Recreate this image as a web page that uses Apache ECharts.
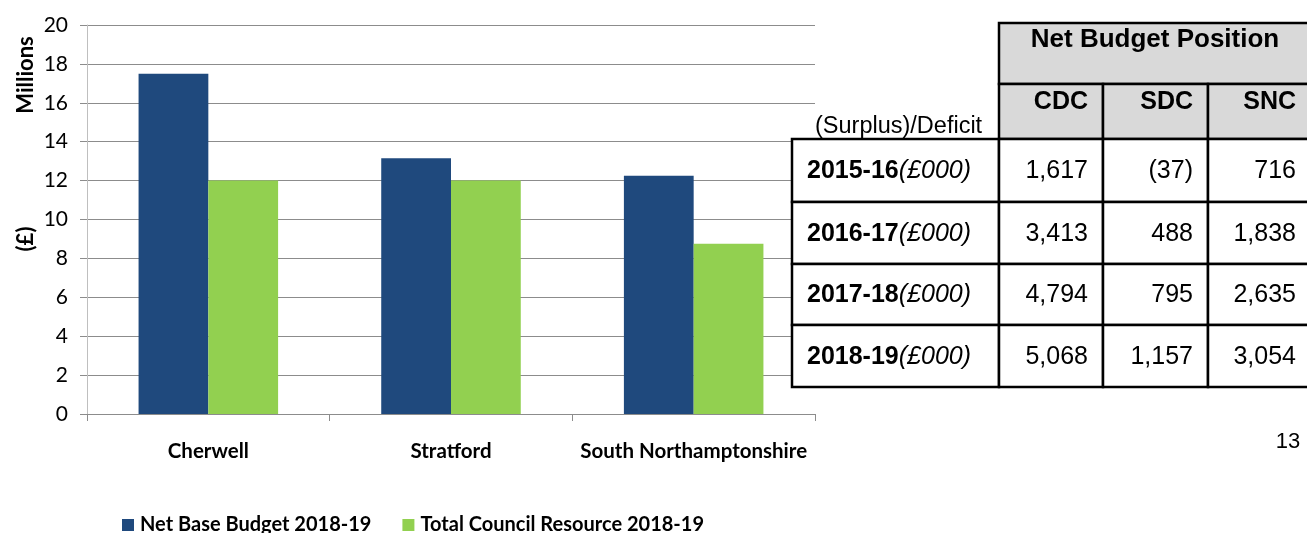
<!DOCTYPE html>
<html><head><meta charset="utf-8">
<script src="https://cdn.jsdelivr.net/npm/echarts@6/dist/echarts.min.js"></script>
<style>html,body{margin:0;padding:0;background:#fff;}#c{width:1307px;height:533px;}</style>
</head><body><div id="c"></div>
<script>
// ---- data ----
const categories = ['Cherwell', 'Stratford', 'South Northamptonshire'];
const netBaseBudget = [17.5, 13.15, 12.25];
const totalCouncilResource = [12.0, 12.0, 8.75];
const seriesNames = ['Net Base Budget 2018-19', 'Total Council Resource 2018-19'];
const tableTitle = 'Net Budget Position';
const tableCorner = '(Surplus)/Deficit';
const tableCols = ['CDC', 'SDC', 'SNC'];
const tableYears = ['2015-16', '2016-17', '2017-18', '2018-19'];
const tableUnit = '(£000)';
const cdcValues = ['1,617', '3,413', '4,794', '5,068'];
const sdcValues = ['(37)', '488', '795', '1,157'];
const sncValues = ['716', '1,838', '2,635', '3,054'];
const pageNumber = '13';

// ---- layout ----
const chartFont = 'Lato';
const tableFont = '"Liberation Sans", Arial, sans-serif';
const colX = [792, 999, 1103, 1208, 1311];
const rowY = [139, 202, 264, 325, 387];
const headTop = 23, headMid = 84;
const lw = 2.5;
const greyFill = '#d9d9d9';

const graphics = [];
// axis titles
graphics.push({type:'text', x:26, y:75, rotation:Math.PI/2, z:10,
  style:{text:'Millions', align:'center', verticalAlign:'middle', fill:'#000', font:'bold 22px ' + chartFont}});
graphics.push({type:'text', x:26, y:239, rotation:Math.PI/2, z:10,
  style:{text:'(£)', align:'center', verticalAlign:'middle', fill:'#000', font:'bold 22px ' + chartFont}});

// table header
graphics.push({type:'rect', z:20, shape:{x:colX[1], y:headTop, width:colX[4]-colX[1], height:headMid-headTop},
  style:{fill:greyFill, stroke:'#000', lineWidth:lw}});
graphics.push({type:'text', z:21, x:(colX[1]+colX[4])/2, y:40,
  style:{text:tableTitle, align:'center', verticalAlign:'middle', fill:'#000', font:'bold 26px ' + tableFont}});
const colsVals = [cdcValues, sdcValues, sncValues];
tableCols.forEach((c, i) => {
  graphics.push({type:'rect', z:20, shape:{x:colX[i+1], y:headMid, width:colX[i+2]-colX[i+1], height:rowY[0]-headMid},
    style:{fill:greyFill, stroke:'#000', lineWidth:lw}});
  graphics.push({type:'text', z:21, x:colX[i+2]-15, y:102,
    style:{text:c, align:'right', verticalAlign:'middle', fill:'#000', font:'bold 25px ' + tableFont}});
});
graphics.push({type:'text', z:21, x:815, y:127,
  style:{text:tableCorner, align:'left', verticalAlign:'middle', fill:'#000', font:'23.5px ' + tableFont}});
// table body
tableYears.forEach((yr, r) => {
  const y0 = rowY[r], y1 = rowY[r+1], cy = (y0+y1)/2 + 1;
  for (let k = 0; k < 4; k++) {
    graphics.push({type:'rect', z:20, shape:{x:colX[k], y:y0, width:colX[k+1]-colX[k], height:y1-y0},
      style:{fill:'#fff', stroke:'#000', lineWidth:lw}});
  }
  graphics.push({type:'text', z:21, x:807, y:cy,
    style:{text:'{b|' + yr + '}{i|' + tableUnit + '}', align:'left', verticalAlign:'middle',
      rich:{b:{fontFamily:tableFont, fontWeight:'bold', fontSize:25, fill:'#000'},
            i:{fontFamily:tableFont, fontStyle:'italic', fontSize:25, fill:'#000'}}}});
  colsVals.forEach((vals, i) => {
    graphics.push({type:'text', z:21, x:colX[i+2]-15, y:cy,
      style:{text:vals[r], align:'right', verticalAlign:'middle', fill:'#000', font:'25px ' + tableFont}});
  });
});
graphics.push({type:'text', z:21, x:1288, y:442,
  style:{text:pageNumber, align:'center', verticalAlign:'middle', fill:'#000', font:'22px ' + tableFont}});

const chart = echarts.init(document.getElementById('c'), null, {renderer:'canvas'});
chart.setOption({
  animation:false,
  backgroundColor:'#fff',
  grid:{left:87, right:492, top:25, bottom:119, containLabel:false},
  legend:{
    left:122, top:515, padding:0, itemWidth:12, itemHeight:12, itemGap:31, icon:'rect',
    textStyle:{fontFamily:chartFont, fontWeight:'bold', fontSize:20, color:'#000', padding:[0,0,0,1]},
    data:seriesNames
  },
  xAxis:{
    type:'category', data:categories,
    axisLine:{lineStyle:{color:'#8c8c8c', width:1}},
    axisTick:{show:true, length:7, lineStyle:{color:'#8c8c8c'}},
    axisLabel:{margin:27, fontFamily:chartFont, fontWeight:'bold', fontSize:20.5, color:'#000', interval:0}
  },
  yAxis:{
    type:'value', min:0, max:20, interval:2,
    axisLine:{show:true, lineStyle:{color:'#bfbfbf'}},
    axisTick:{show:true, length:7, lineStyle:{color:'#8c8c8c'}},
    axisLabel:{margin:19, fontFamily:chartFont, fontSize:21, color:'#000'},
    splitLine:{lineStyle:{color:'#8c8c8c', width:1}}
  },
  series:[
    {name:seriesNames[0], type:'bar', data:netBaseBudget, itemStyle:{color:'#1f497d'}, barGap:'0%', barCategoryGap:'42.5%'},
    {name:seriesNames[1], type:'bar', data:totalCouncilResource, itemStyle:{color:'#92d050'}, barGap:'0%', barCategoryGap:'42.5%'}
  ],
  graphic:graphics
});
</script></body></html>
